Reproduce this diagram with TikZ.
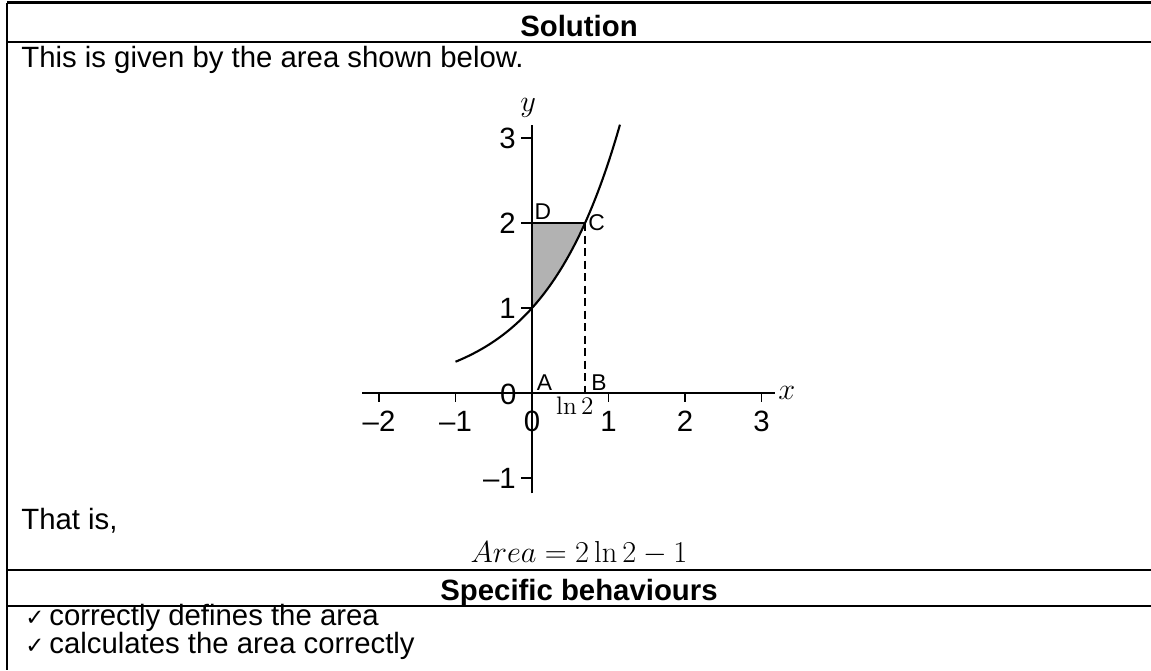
\documentclass[tikz,border=0pt]{standalone}
\usepackage{amsmath}
\usepackage[no-math]{fontspec}
\setmainfont{Liberation Sans}
\newfontfamily\checkfont{DejaVu Sans}

\begin{document}
\begin{tikzpicture}[
  x=0.02cm, y=-0.02cm,
  every node/.style={font=\fontsize{16.7}{20}\selectfont, inner sep=0pt},
  head/.style={font=\fontsize{16.7}{20}\selectfont\bfseries},
  tickmark/.style={font=\checkfont\fontsize{13}{15}\selectfont, anchor=base west},
  rule/.style={line width=1.5pt},
  axis/.style={line width=1.1pt},
  curve/.style={line width=1.2pt},
  ptlabel/.style={font=\fontsize{13}{15}\selectfont},
  shade/.style={fill=black!30}
]
  \useasboundingbox (0,0) rectangle (1151,670);

  % table rules
  \draw[rule] (7,2.5) -- (1151,2.5);
  \draw[rule] (7,42) -- (1151,42);
  \draw[rule] (7,570) -- (1151,570);
  \draw[rule] (7,606) -- (1151,606);
  \draw[rule] (7,2.5) -- (7,670);

  % texts of the table
  \node[head, anchor=base] (sol) at (579,36) {Solution};
  \node[anchor=base west] (intro) at (21,67) {This is given by the area shown below.};
  \node[anchor=base west] (thatis) at (21,529) {That is,};
  \node[anchor=base, font=\fontsize{16}{19}\selectfont] (area) at (579,562) {$Area = 2\ln 2 - 1$};
  \node[head, anchor=base] (spec) at (579,600) {Specific behaviours};
  \node[tickmark] (chk1) at (25,625) {✓};
  \node[anchor=base west] (crit1) at (49,625) {correctly defines the area};
  \node[tickmark] (chk2) at (25,653) {✓};
  \node[anchor=base west] (crit2) at (49,653) {calculates the area correctly};

  % graph of y = e^x
  \begin{scope}[shift={(532,393)}, x=1.53cm, y=1.70cm]
    \coordinate (A) at (0,0);
    \coordinate (B) at ({ln(2)},0);
    \coordinate (C) at ({ln(2)},2);
    \coordinate (D) at (0,2);
    \fill[shade] (0,1) -- plot[domain=0:0.6931, samples=30] (\x,{exp(\x)}) -- (D) -- cycle;
    \draw[axis] (-2.22,0) -- (3.18,0);
    \draw[axis] (0,-1.18) -- (0,3.15);
    \foreach \k/\t in {-2/--2, -1/--1, 1/1, 2/2, 3/3}
      \draw[axis] (\k,0) -- (\k,-0.1) node (xt\k) at (\k,-0.33) {\t};
    \node (xt0) at (0,-0.33) {0};
    \foreach \k/\t in {-1/--1, 1/1, 2/2, 3/3}
      \draw[axis] (0,\k) -- (-0.15,\k) node[anchor=east] (yt\k) at (-0.2,\k) {\t};
    \node[anchor=east] (yt0) at (-0.2,-0.02) {0};
    \draw[curve] plot[domain=-1:1.15, samples=60, smooth] (\x,{exp(\x)});
    \draw[axis] (D) -- (C);
    \draw[axis, dash pattern=on 0.16cm off 0.09cm] (C) -- (B);
    \node[ptlabel, anchor=south west] (lblA) at (0.06,0.03) {A};
    \node[ptlabel, anchor=south west] (lblB) at ({ln(2)+0.08},0.03) {B};
    \node[ptlabel, anchor=south west] (lblC) at ({ln(2)+0.04},1.9) {C};
    \node[ptlabel, anchor=south west] (lblD) at (0.03,2.04) {D};
    \node[anchor=north, font=\fontsize{15.5}{18}\selectfont] (ln2) at (0.56,-0.04) {$\ln 2$};
    \node[font=\fontsize{17}{20}\selectfont] (xlab) at (3.33,0) {$x$};
    \node[font=\fontsize{17}{20}\selectfont] (ylab) at (-0.05,3.36) {$y$};
  \end{scope}
\end{tikzpicture}
\end{document}
